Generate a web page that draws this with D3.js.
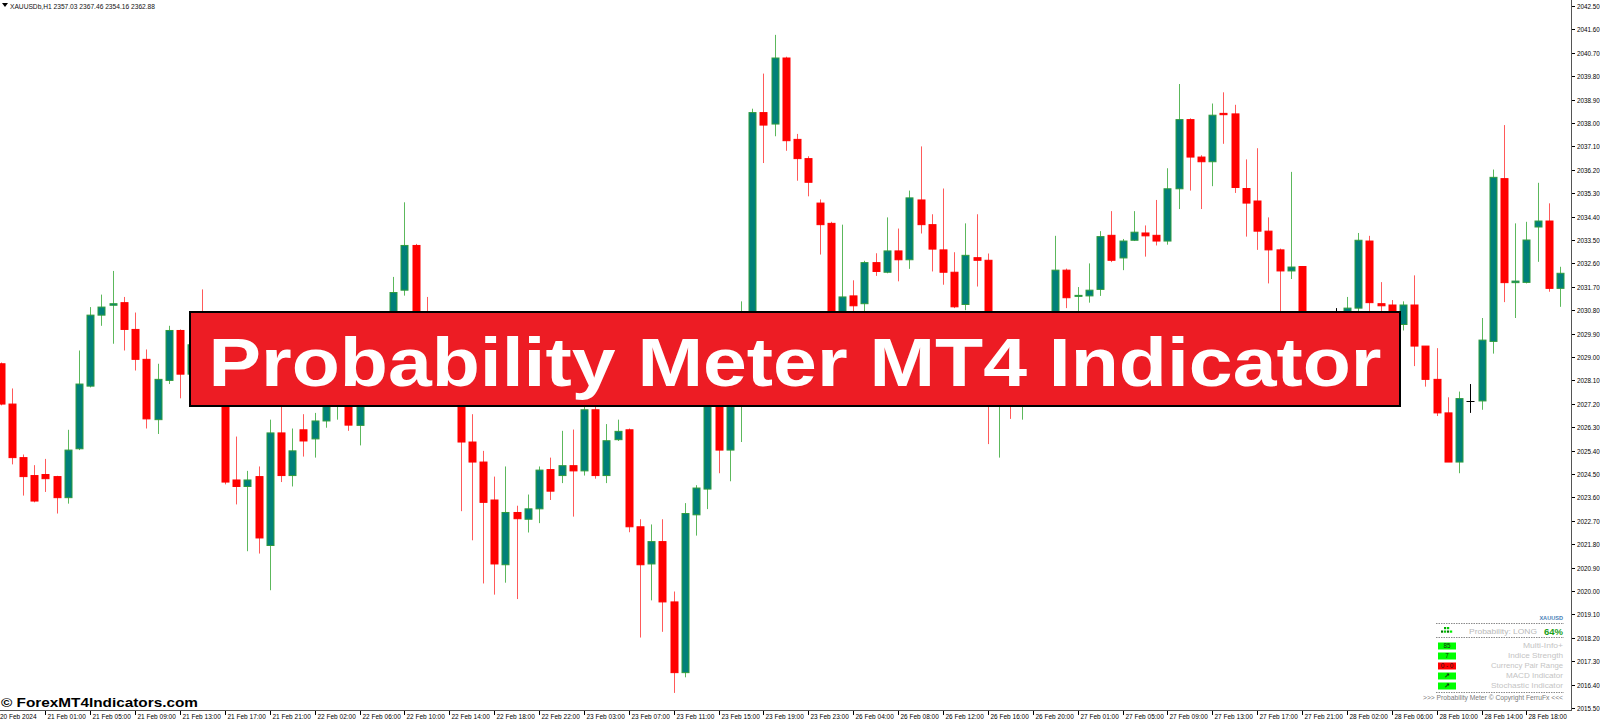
<!DOCTYPE html>
<html>
<head>
<meta charset="utf-8">
<script src="https://cdn.jsdelivr.net/npm/d3@7/dist/d3.min.js"></script>
<style>
html,body{margin:0;padding:0;background:#fff;}
svg{display:block;}
</style>
</head>
<body>
<svg id="chart" width="1600" height="722"></svg>
<script>
// ---------------- DATA ----------------
const symbolHeader = "XAUUSDb,H1  2357.03 2367.46 2354.16 2362.88";

const opens = [
2028.74,2027.19,2025.13,2024.44,2024.48,2024.40,2023.59,2025.47,2027.88,2030.61,
2030.99,2031.09,2030.06,2028.91,2026.59,2028.10,2030.02,2028.34,2029.47,2029.10,
2028.20,2024.27,2024.02,2024.40,2021.75,2026.08,2024.44,2026.20,2025.85,2026.54,
2027.50,2028.00,2026.37,2028.50,2029.30,2030.40,2031.57,2033.29,2030.50,2029.50,
2028.80,2027.90,2025.73,2024.96,2023.50,2021.01,2023.02,2022.76,2023.16,2024.67,
2024.44,2024.82,2024.62,2026.97,2024.44,2025.82,2026.20,2022.47,2021.04,2021.90,
2019.58,2016.86,2022.93,2023.92,2028.20,2025.42,2028.60,2029.90,2038.40,2037.96,
2040.50,2037.37,2036.63,2034.92,2034.14,2030.00,2031.35,2031.05,2032.63,2032.26,
2033.08,2032.74,2035.04,2034.09,2033.12,2032.26,2031.02,2032.82,2032.72,2027.80,
2029.00,2028.30,2029.40,2028.90,2029.80,2032.34,2031.35,2031.35,2031.60,2033.68,
2032.81,2033.49,2033.77,2033.68,2033.46,2035.47,2038.13,2036.69,2036.51,2038.37,
2038.35,2035.48,2035.00,2033.84,2033.12,2032.31,2032.48,2029.50,2029.00,2030.30,
2030.30,2030.88,2033.46,2031.05,2031.00,2030.25,2031.00,2029.42,2028.14,2026.85,
2024.96,2027.31,2027.31,2029.60,2035.86,2031.86,2031.87,2034.00,2034.23,2031.64];

const highs = [
2028.79,2027.79,2025.25,2024.84,2025.08,2024.43,2026.20,2029.25,2030.92,2031.40,
2032.31,2031.31,2030.71,2029.29,2028.74,2030.20,2030.06,2029.59,2031.60,2029.40,
2028.40,2025.94,2024.62,2024.79,2026.59,2027.30,2026.25,2026.80,2026.85,2028.00,
2028.30,2028.30,2029.00,2029.80,2030.60,2032.08,2034.95,2033.35,2031.31,2029.90,
2029.20,2028.20,2026.80,2025.39,2024.40,2024.79,2023.28,2023.71,2024.79,2025.13,
2026.16,2026.21,2027.11,2027.30,2026.42,2026.59,2026.25,2022.76,2022.56,2022.76,
2019.98,2023.38,2024.07,2028.60,2028.50,2029.00,2031.14,2038.55,2039.90,2041.39,
2040.55,2037.58,2036.72,2035.06,2034.20,2034.09,2031.95,2032.70,2032.99,2034.37,
2033.94,2035.40,2037.10,2034.49,2035.48,2033.03,2034.14,2034.49,2032.98,2029.60,
2029.40,2029.90,2029.80,2030.20,2033.66,2032.40,2031.69,2032.60,2033.84,2034.61,
2033.54,2034.61,2034.06,2035.04,2036.26,2039.50,2038.18,2036.76,2038.75,2039.18,
2038.70,2036.60,2037.03,2034.37,2033.17,2036.12,2032.50,2029.90,2030.20,2030.88,
2031.31,2033.77,2033.66,2031.88,2031.19,2031.14,2032.14,2029.42,2029.34,2027.45,
2027.67,2027.96,2030.50,2036.21,2037.92,2034.14,2034.20,2035.70,2034.91,2032.47];

const lows = [
2027.14,2024.87,2023.67,2023.41,2023.81,2022.98,2023.36,2025.42,2027.83,2030.20,
2029.51,2029.25,2028.48,2026.25,2026.04,2027.96,2027.41,2028.27,2028.90,2027.90,
2024.10,2023.33,2021.53,2021.44,2020.03,2024.19,2024.02,2025.17,2025.13,2026.28,
2026.59,2026.16,2025.60,2028.20,2029.00,2030.00,2031.36,2030.00,2029.00,2028.40,
2027.60,2023.07,2021.95,2020.29,2019.86,2020.32,2019.69,2022.25,2022.61,2023.50,
2024.15,2022.86,2024.44,2024.32,2024.15,2025.77,2022.26,2018.21,2019.64,2018.43,
2016.08,2016.68,2022.13,2023.15,2024.53,2024.22,2025.73,2029.70,2036.46,2037.49,
2036.93,2035.78,2035.18,2032.94,2029.50,2029.60,2030.50,2030.60,2032.12,2032.22,
2031.91,2032.39,2033.75,2032.29,2031.78,2030.88,2030.80,2031.71,2025.65,2025.13,
2026.62,2026.59,2028.40,2028.50,2029.50,2030.88,2030.60,2031.09,2031.35,2032.65,
2032.34,2033.46,2032.86,2033.29,2033.32,2034.69,2035.40,2034.69,2035.57,2037.20,
2035.31,2033.63,2033.12,2031.83,2030.60,2032.00,2029.00,2028.60,2028.80,2029.80,
2030.10,2030.50,2030.60,2030.71,2030.30,2030.02,2028.65,2027.86,2026.73,2024.96,
2024.53,2026.85,2026.97,2029.13,2031.11,2030.50,2031.83,2032.66,2031.51,2030.93];

const closes = [
2027.19,2025.13,2024.40,2023.46,2024.32,2023.59,2025.42,2027.96,2030.61,2030.92,
2031.05,2030.06,2028.91,2026.62,2028.14,2030.02,2028.34,2029.47,2029.10,2028.20,
2024.19,2024.02,2024.27,2022.04,2026.08,2024.44,2025.39,2025.77,2026.54,2027.60,
2028.00,2026.38,2028.50,2029.30,2030.40,2031.48,2033.29,2030.30,2029.50,2028.80,
2028.00,2025.73,2024.96,2023.41,2021.04,2023.02,2022.78,2023.16,2024.65,2023.84,
2024.82,2024.62,2026.97,2024.44,2025.78,2026.14,2022.47,2021.01,2021.90,2019.58,
2016.86,2022.98,2023.96,2028.20,2025.42,2028.60,2029.80,2038.40,2037.92,2040.50,
2037.32,2036.63,2035.72,2034.09,2029.90,2031.31,2030.97,2032.63,2032.29,2033.08,
2032.74,2035.12,2034.09,2033.15,2032.26,2030.93,2032.91,2032.72,2028.50,2029.00,
2028.20,2029.40,2028.90,2029.60,2032.34,2031.28,2031.37,2031.57,2033.63,2032.72,
2033.46,2033.80,2033.66,2033.46,2035.47,2038.13,2036.69,2036.51,2038.30,2038.32,
2035.52,2034.92,2033.84,2033.12,2032.31,2032.46,2029.50,2029.00,2029.80,2030.30,
2030.88,2033.49,2031.09,2030.97,2030.50,2031.00,2029.42,2028.14,2026.85,2024.96,
2027.40,2027.31,2029.65,2035.91,2031.86,2031.92,2033.50,2034.23,2031.64,2032.22];

const timeLabels = ["20 Feb 2024","21 Feb 01:00","21 Feb 05:00","21 Feb 09:00","21 Feb 13:00",
"21 Feb 17:00","21 Feb 21:00","22 Feb 02:00","22 Feb 06:00","22 Feb 10:00","22 Feb 14:00",
"22 Feb 18:00","22 Feb 22:00","23 Feb 03:00","23 Feb 07:00","23 Feb 11:00","23 Feb 15:00",
"23 Feb 19:00","23 Feb 23:00","26 Feb 04:00","26 Feb 08:00","26 Feb 12:00","26 Feb 16:00",
"26 Feb 20:00","27 Feb 01:00","27 Feb 05:00","27 Feb 09:00","27 Feb 13:00","27 Feb 17:00",
"27 Feb 21:00","28 Feb 02:00","28 Feb 06:00","28 Feb 10:00","28 Feb 14:00","28 Feb 18:00"];
const timeLabelBars = [0,4,8,12,16,20,24,28,32,36,40,44,48,52,56,60,64,68,72,76,80,84,88,92,96,100,104,108,112,116,120,124,128,132,136];

const priceTicks = [2042.50,2041.60,2040.70,2039.80,2038.90,2038.00,2037.10,2036.20,2035.30,2034.40,
2033.50,2032.60,2031.70,2030.80,2029.90,2029.00,2028.10,2027.20,2026.30,2025.40,2024.50,
2023.60,2022.70,2021.80,2020.90,2020.00,2019.10,2018.20,2017.30,2016.40,2015.50];

const bannerTitle = "Probability Meter MT4 Indicator";
const footerText = "© ForexMT4Indicators.com";

const panelSymbol = "XAUUSD";
const panelProbLabel = "Probability:   LONG";
const panelProbValue = "64%";
const panelBoxes = ["85","7","0 - 0","↗","↗"];
const panelBoxState = ["up","up","down","up","up"];
const panelNames = ["Multi-Info+","Indice Strength","Currency Pair Range","MACD Indicator","Stochastic Indicator"];
const panelCopyright = ">>> Probability Meter © Copyright FerruFx <<<";

// ---------------- LAYOUT ----------------
const svg = d3.select("#chart");
const plotRight = 1571, plotBottom = 710;
const x = d3.scaleLinear().domain([0, 139]).range([0.5, 1560.1]);
const y = d3.scaleLinear().domain([2015.5, 2042.5]).range([708, 6]);

const C = {
  upFill: "#00807a", upStroke: "#2e9b3e", upWick: "#5cb85c",
  dnFill: "#ff0000", dnStroke: "#ff0000", dnWick: "#ff5a5a",
  doji: "#000"
};

svg.append("rect").attr("width",1600).attr("height",722).attr("fill","#fff");

// header
svg.append("path").attr("d","M2,3 L8,3 L5,7 Z").attr("fill","#000");
svg.append("text").attr("x",10).attr("y",8.5)
  .attr("font-family","Liberation Sans, Arial, sans-serif").attr("font-size",7)
  .attr("textLength",145).attr("lengthAdjust","spacingAndGlyphs")
  .attr("fill","#111").text(symbolHeader);

// candles
const bars = d3.range(opens.length).map(i => ({i, o:opens[i], h:highs[i], l:lows[i], c:closes[i]}));
const gC = svg.append("g");
bars.forEach(b => {
  const cx = Math.round(x(b.i));
  const up = b.c > b.o, dj = b.c === b.o;
  const wickCol = dj ? C.doji : (up ? C.upWick : C.dnWick);
  gC.append("line").attr("x1",cx+0.5).attr("x2",cx+0.5)
    .attr("y1",y(b.h)).attr("y2",y(b.l)).attr("stroke",wickCol).attr("stroke-width",1);
  if (dj) {
    gC.append("line").attr("x1",cx-3.5).attr("x2",cx+4.5)
      .attr("y1",Math.round(y(b.o))+0.5).attr("y2",Math.round(y(b.o))+0.5)
      .attr("stroke",C.doji).attr("stroke-width",1);
  } else {
    const top = y(Math.max(b.o,b.c)), bot = y(Math.min(b.o,b.c));
    const h = Math.max(1, bot-top);
    gC.append("rect").attr("x",cx-3).attr("width",7)
      .attr("y",top).attr("height",h)
      .attr("fill", up ? C.upFill : C.dnFill)
      .attr("stroke", up ? C.upStroke : C.dnStroke).attr("stroke-width",1);
  }
});

// axes frame
svg.append("line").attr("x1",plotRight+0.5).attr("x2",plotRight+0.5).attr("y1",0).attr("y2",plotBottom+1)
  .attr("stroke","#555").attr("stroke-width",1);
svg.append("line").attr("x1",0).attr("x2",plotRight+1).attr("y1",plotBottom+0.5).attr("y2",plotBottom+0.5)
  .attr("stroke","#555").attr("stroke-width",1);

// price axis
const gP = svg.append("g").attr("font-family","Liberation Sans, Arial, sans-serif").attr("font-size",6.3).attr("fill","#000");
priceTicks.forEach(p => {
  const yy = Math.round(y(p))+0.5;
  gP.append("line").attr("x1",plotRight+1).attr("x2",plotRight+4).attr("y1",yy).attr("y2",yy).attr("stroke","#000");
  gP.append("text").attr("x",plotRight+6).attr("y",yy+2.3).text(p.toFixed(2));
});

// time axis
const gT = svg.append("g").attr("font-family","Liberation Sans, Arial, sans-serif").attr("font-size",6.5).attr("fill","#000");
timeLabels.forEach((t,k) => {
  const xx = k === 0 ? 0 : Math.round(x(timeLabelBars[k]))+0.5;
  if (k > 0) gT.append("line").attr("x1",xx).attr("x2",xx).attr("y1",plotBottom+1).attr("y2",plotBottom+5).attr("stroke","#000");
  gT.append("text").attr("x", k === 0 ? 0 : xx+2).attr("y",719).text(t);
});

// banner
svg.append("rect").attr("x",190).attr("y",312).attr("width",1210).attr("height",94)
  .attr("fill","#ED1C24").attr("stroke","#000").attr("stroke-width",2);
svg.append("text").attr("x",795).attr("y",386).attr("text-anchor","middle")
  .attr("font-family","Liberation Sans, Arial, sans-serif").attr("font-weight","bold")
  .attr("font-size",68).attr("fill","#fff")
  .attr("textLength",1173).attr("lengthAdjust","spacingAndGlyphs")
  .text(bannerTitle);

// footer watermark
svg.append("text").attr("x",1).attr("y",707)
  .attr("font-family","Liberation Sans, Arial, sans-serif").attr("font-weight","bold")
  .attr("font-size",13.5).attr("fill","#000")
  .attr("textLength",197).attr("lengthAdjust","spacingAndGlyphs")
  .text(footerText);

// probability meter panel
const gM = svg.append("g").attr("font-family","Liberation Sans, Arial, sans-serif");
const pR = 1563;
gM.append("text").attr("x",pR).attr("y",619.5).attr("text-anchor","end")
  .attr("font-size",5.6).attr("font-weight","bold").attr("fill","#4a7fb8").text(panelSymbol);
[623,637,692].forEach(yy => {
  gM.append("line").attr("x1",1436).attr("x2",pR+1).attr("y1",yy+0.5).attr("y2",yy+0.5)
    .attr("stroke","#8a8a8a").attr("stroke-dasharray","1.5,1").attr("stroke-width",1);
});
// signal icon
[[1444,627,"#0a0"],[1447,627,"#0c0"],[1441,630.5,"#070"],[1444,630.5,"#0c0"],[1447,630.5,"#070"],[1450,630.5,"#0e0"]]
  .forEach(s => gM.append("rect").attr("x",s[0]).attr("y",s[1]).attr("width",2.2).attr("height",2.2).attr("fill",s[2]));
gM.append("text").attr("x",1469).attr("y",633.5).attr("font-size",6.3).attr("fill","#b9b9b9")
  .attr("textLength",68).attr("lengthAdjust","spacingAndGlyphs").text(panelProbLabel);
gM.append("text").attr("x",pR).attr("y",635).attr("text-anchor","end").attr("font-size",9.5)
  .attr("font-weight","bold").attr("fill","#19a019").text(panelProbValue);
const rowY = [646,656,666,676,686];
const nameStart = [1523,1508,1491,1506,1491];
rowY.forEach((ry,k) => {
  gM.append("rect").attr("x",1438).attr("y",ry-3.5).attr("width",18).attr("height",7)
    .attr("fill", panelBoxState[k]==="up" ? "#00ff00" : "#ff0000");
  gM.append("text").attr("x",1447).attr("y",ry+2.2).attr("text-anchor","middle")
    .attr("font-size", k>=3 ? 7 : 6.3).attr("font-weight", k>=3 ? "bold":"normal")
    .attr("font-family", k>=3 ? "DejaVu Sans, sans-serif" : "Liberation Sans, Arial, sans-serif")
    .attr("fill","#1a1a1a").text(panelBoxes[k]);
  gM.append("text").attr("x",nameStart[k]).attr("y",ry+2.2).attr("font-size",6.3).attr("fill","#c4c4c4")
    .attr("textLength",pR-nameStart[k]).attr("lengthAdjust","spacingAndGlyphs").text(panelNames[k]);
});
gM.append("text").attr("x",1423).attr("y",700).attr("font-size",6.5).attr("fill","#7a7a7a")
  .attr("textLength",140).attr("lengthAdjust","spacingAndGlyphs").text(panelCopyright);
</script>
</body>
</html>
